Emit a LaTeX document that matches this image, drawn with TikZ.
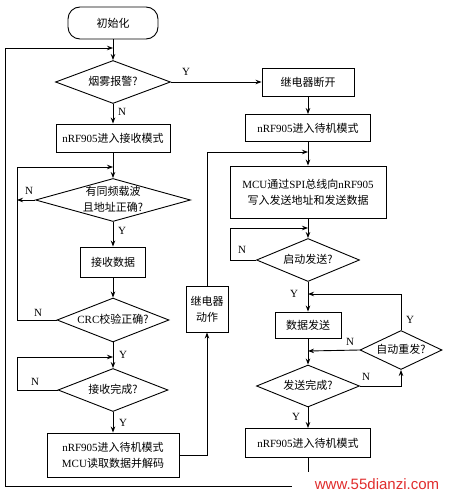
\documentclass[tikz,border=0pt]{standalone}
\usepackage{fontspec}
\setmainfont{Liberation Serif}
\newfontfamily\cjk{Noto Sans CJK SC}
\newfontfamily\wmfont{Liberation Sans}
\usetikzlibrary{arrows.meta,shapes.geometric}
\newcommand\zh[1]{{\cjk #1}}
\newcommand\zb[1]{\makebox[0pt]{\begin{tabular}{@{}c@{}}#1\end{tabular}}}
\definecolor{wmred}{RGB}{225,45,45}
\begin{document}
\begin{tikzpicture}[x=1pt,y=-1pt,
  every node/.style={font=\fontsize{11}{16}\selectfont},
  box/.style={draw,line width=0.9pt,inner sep=0pt,align=center},
  term/.style={draw,line width=0.9pt,rounded corners=12pt,inner sep=0pt,minimum width=90pt,minimum height=32pt},
  dia/.style={draw,diamond,line width=0.9pt,inner sep=0pt,aspect=2.5},
  arr/.style={draw,line width=0.9pt,-{Stealth[length=6pt,width=4.5pt]}},
  lab/.style={inner sep=0pt,font=\fontsize{11}{13}\selectfont},
  wm/.style={fill=white,text=wmred,inner sep=0pt,minimum width=170pt,minimum height=24pt,font=\wmfont\fontsize{15}{17}\selectfont}
]
\useasboundingbox (0,0) rectangle (448,495);
\fill[white] (0,0) rectangle (448,495);

% left column
\node[term] (init) at (113,23) {\zh{初始化}};
\node[dia,minimum width=115pt,minimum height=43pt] (d1) at (113,82) {\zb{\zh{烟雾报警?}}};
\node[box,minimum width=114pt,minimum height=28pt] (b1) at (113,138) {nRF905\zh{进入接收模式}};
\node[dia,minimum width=155pt,minimum height=43pt] (d2) at (113,200) {\zb{\zh{有同频载波}\\\zh{且地址正确?}}};
\node[box,minimum width=65pt,minimum height=30pt] (b2) at (113,262) {\zh{接收数据}};
\node[dia,minimum width=112pt,minimum height=44pt] (d3) at (113,320) {\zb{CRC\zh{校验正确?}}};
\node[dia,minimum width=110pt,minimum height=43pt] (d4) at (113,390) {\zb{\zh{接收完成?}}};
\node[box,minimum width=132pt,minimum height=44pt] (b3) at (113,455) {nRF905\zh{进入待机模式}\\MCU\zh{读取数据并解码}};
\node[box,minimum width=42pt,minimum height=46pt] (r1) at (207,309) {\zh{继电器}\\\zh{动作}};

% right column
\node[box,minimum width=92pt,minimum height=28pt] (s1) at (308,82) {\zh{继电器断开}};
\node[box,minimum width=125pt,minimum height=27pt] (s2) at (308,128) {nRF905\zh{进入待机模式}};
\node[box,minimum width=156pt,minimum height=52pt] (s3) at (308,192) {MCU\zh{通过}SPI\zh{总线向}nRF905\\\zh{写入发送地址和发送数据}};
\node[dia,minimum width=103pt,minimum height=43pt] (d5) at (308,260) {\zb{\zh{启动发送?}}};
\node[box,minimum width=66pt,minimum height=26pt] (s4) at (308,325) {\zh{数据发送}};
\node[dia,minimum width=82pt,minimum height=39pt] (d6) at (401,350) {\zb{\zh{自动重发?}}};
\node[dia,minimum width=103pt,minimum height=42pt] (d7) at (308,386) {\zb{\zh{发送完成?}}};
\node[box,minimum width=125pt,minimum height=29pt] (s5) at (308,443) {nRF905\zh{进入待机模式}};

% junctions and corners
\coordinate (j0) at (113,48);
\coordinate (j1) at (113,167);
\coordinate (j2) at (113,357);
\coordinate (j3) at (308,152);
\coordinate (j4) at (308,228);
\coordinate (j5) at (308,294);
\coordinate (j6) at (308,351);
\coordinate (k1) at (17,320);
\coordinate (k2) at (17,200);
\coordinate (k3) at (17,390);
\coordinate (k4) at (230,260);
\coordinate (c0) at (5,486);

% connectors left
\draw[arr] (init.south) -- (d1.north);
\draw[arr] (s5.south) |- (c0) |- (j0);
\draw[arr] (d1.south) -- (b1.north);
\draw[arr] (d1.east) -- (s1.west);
\draw[arr] (b1.south) -- (d2.north);
\draw[arr] (d3.west) -- (k1) |- (j1);
\draw[arr] (d2.west) -- (k2);
\draw[arr] (d2.south) -- (b2.north);
\draw[arr] (b2.south) -- (d3.north);
\draw[arr] (d3.south) -- (d4.north);
\draw[arr] (d4.west) -- (k3) |- (j2);
\draw[arr] (d4.south) -- (b3.north);
\draw[arr] (b3.east) -| (r1.south);
\draw[arr] (r1.north) |- (j3);

% connectors right
\draw[arr] (s1.south) -- (s2.north);
\draw[arr] (s2.south) -- (s3.north);
\draw[arr] (s3.south) -- (d5.north);
\draw[arr] (d5.west) -- (k4) |- (j4);
\draw[arr] (d5.south) -- (s4.north);
\draw[arr] (d6.north) |- (j5);
\draw[arr] (s4.south) -- (d7.north);
\draw[arr] (d6.west) -- (j6);
\draw[arr] (d7.east) -| (d6.south);
\draw[arr] (d7.south) -- (s5.north);

% labels
\node[lab] (l1y) at (186,72) {Y};
\node[lab] (l1n) at (122,112) {N};
\node[lab] (l2n) at (29,191) {N};
\node[lab] (l2y) at (122,231) {Y};
\node[lab] (l3n) at (38,313) {N};
\node[lab] (l3y) at (123,355) {Y};
\node[lab] (l4n) at (35,382) {N};
\node[lab] (l4y) at (123,423) {Y};
\node[lab] (l5n) at (242,250) {N};
\node[lab] (l5y) at (294,294) {Y};
\node[lab] (l6y) at (410,320) {Y};
\node[lab] (l6n) at (350,342) {N};
\node[lab] (l7n) at (366,377) {N};
\node[lab] (l7y) at (296,417) {Y};

% watermark
\node[wm] (wm) at (377,484) {www.55dianzi.com};
\end{tikzpicture}
\end{document}
